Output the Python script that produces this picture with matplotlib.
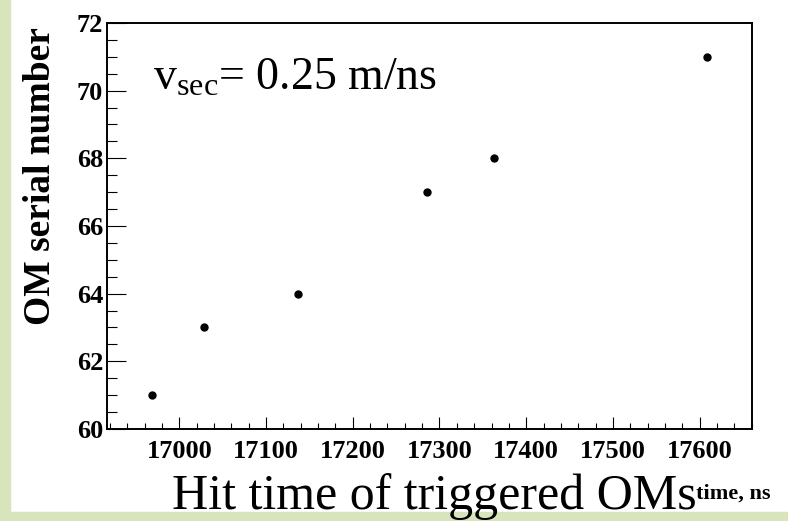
import numpy as np
import matplotlib
matplotlib.use('Agg')
import matplotlib.pyplot as plt
from matplotlib.patches import Rectangle
from matplotlib.ticker import MultipleLocator

# hit times (ns) and OM serial numbers
hit_time = [16969, 17028, 17137, 17286, 17363, 17609]
om_number = [61, 63, 64, 67, 68, 71]

x_ticks = [17000, 17100, 17200, 17300, 17400, 17500, 17600]
y_ticks = [60, 62, 64, 66, 68, 70, 72]

plt.rcParams['mathtext.fontset'] = 'custom'
plt.rcParams['mathtext.rm'] = 'Liberation Serif'
plt.rcParams['mathtext.it'] = 'Liberation Serif:italic'

fig = plt.figure(figsize=(7.88, 5.21), dpi=100)
fig.patch.set_facecolor('white')

# green strips of the slide background
green = '#d8e4bc'
fig.patches.append(Rectangle((0, 0), 10 / 788., 1, transform=fig.transFigure, color=green, zorder=0))
fig.patches.append(Rectangle((0, 0), 1, 9 / 521., transform=fig.transFigure, color=green, zorder=0))

ax = fig.add_axes([0.1362, 0.1766, 0.8177, 0.7793])
ax.plot(hit_time, om_number, 'o', color='black', markersize=5)

ax.set_xlim(16917, 17660)
ax.set_ylim(60, 72)
ax.set_xticks(x_ticks)
ax.set_yticks(y_ticks)
ax.xaxis.set_minor_locator(MultipleLocator(20))
ax.yaxis.set_minor_locator(MultipleLocator(0.5))

ax.tick_params(axis='x', which='major', direction='in', length=8.6, width=0.8, pad=8)
ax.tick_params(axis='x', which='minor', direction='in', length=4.3, width=0.8)
ax.tick_params(axis='y', which='major', direction='in', length=13.7, width=0.8, pad=3)
ax.tick_params(axis='y', which='minor', direction='in', length=7, width=0.8)
ax.tick_params(top=False, right=False, which='both')

for lab in ax.get_xticklabels() + ax.get_yticklabels():
    lab.set_family('Liberation Serif')
    lab.set_weight('bold')
    lab.set_size(19)

for side in ['top', 'bottom', 'left', 'right']:
    ax.spines[side].set_linewidth(1.4)

ax.set_ylabel('OM serial number', family='Liberation Serif', weight='bold', size=27,
              va='center', ha='center')
ax.yaxis.set_label_coords(-0.103, 0.623)

ax.text(0.071, 0.835, r'$\mathrm{v_{sec}}$= 0.25 m/ns', transform=ax.transAxes,
        family='Liberation Serif', size=33, va='baseline', ha='left')

# x axis title written as on the slide, with the unit as a small bold superscript
fig.text(172 / 788., 1 - 509 / 521., 'Hit time of triggered OMs', family='Liberation Serif',
         size=36, va='baseline', ha='left')
fig.text(696 / 788., 1 - 499 / 521., 'time, ns', family='Liberation Serif', weight='bold',
         size=16, va='baseline', ha='left')

plt.savefig('out.png', dpi=100)
plt.close()
